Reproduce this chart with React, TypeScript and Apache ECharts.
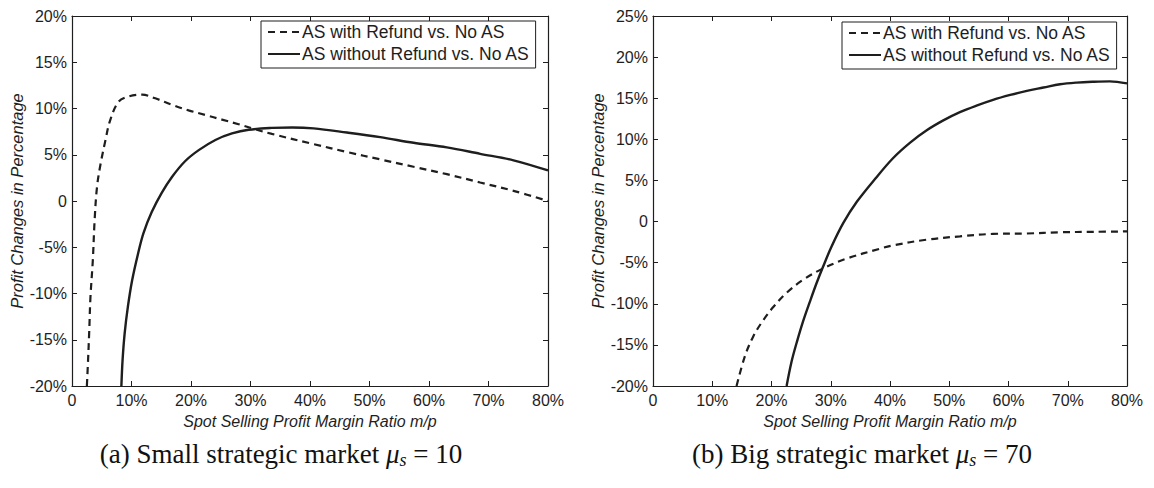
import React, { useEffect, useRef } from "react";
import * as echarts from "echarts";

// ---- data (x: m/p in %, y: profit change in %) ----
const SERIES_REFUND = "AS with Refund vs. No AS";
const SERIES_NOREFUND = "AS without Refund vs. No AS";

const xTicksLabel = ["0", "10%", "20%", "30%", "40%", "50%", "60%", "70%", "80%"];

// (a) small strategic market
const smallRefundX = [2.5, 2.7, 2.9, 3.1, 3.5, 3.8, 4.2, 4.8, 5.6, 6.4, 7.8, 9.5, 11.8, 14.0, 16.8, 19.6, 22.4, 25.2, 28.0, 30.8, 33.6, 40.6, 46.2, 51.8, 57.4, 63.0, 68.6, 74.2, 80.0];
const smallRefundY = [-20, -17.2, -14.0, -10.4, -6.4, -2.1, 1.5, 4.0, 6.5, 8.7, 10.7, 11.3, 11.5, 11.1, 10.4, 9.8, 9.3, 8.8, 8.3, 7.75, 7.25, 6.15, 5.3, 4.5, 3.7, 2.9, 2.0, 1.1, 0.0];
const smallNoRefundX = [8.3, 8.5, 8.85, 9.4, 10.1, 11.1, 12.0, 13.4, 15.1, 16.8, 19.0, 21.3, 24.1, 26.9, 29.7, 33.6, 37.0, 40.6, 46.2, 51.8, 57.4, 63.0, 68.6, 74.2, 80.0];
const smallNoRefundY = [-20, -17.2, -14.3, -11.4, -8.6, -5.7, -3.5, -1.2, 0.9, 2.6, 4.3, 5.5, 6.6, 7.3, 7.7, 7.9, 7.95, 7.85, 7.4, 6.9, 6.3, 5.8, 5.1, 4.4, 3.3];

// (b) big strategic market
const bigRefundX = [14.1, 15.5, 16.9, 18.6, 20.3, 22.5, 25.3, 28.7, 32.7, 38.3, 40.5, 46.2, 51.8, 57.4, 63.1, 68.7, 74.3, 80.0];
const bigRefundY = [-20, -16.4, -14.0, -12.0, -10.4, -8.7, -7.1, -5.7, -4.5, -3.3, -2.9, -2.2, -1.8, -1.5, -1.45, -1.3, -1.25, -1.2];
const bigNoRefundX = [22.55, 23.4, 24.3, 25.3, 26.5, 27.6, 28.7, 30.1, 32.1, 34.4, 37.5, 40.5, 43.4, 46.2, 49.0, 51.8, 54.6, 57.4, 60.3, 63.1, 65.9, 68.7, 71.5, 74.3, 77.1, 80.0];
const bigNoRefundY = [-20, -17.0, -14.6, -12.2, -9.7, -7.5, -5.5, -3.1, -0.2, 2.4, 5.2, 7.7, 9.6, 11.1, 12.3, 13.3, 14.1, 14.8, 15.4, 15.9, 16.3, 16.7, 16.9, 17.0, 17.05, 16.8];

const captionA = "(a) Small strategic market ";
const captionB = "(b) Big strategic market ";
const muA = "10";
const muB = "70";

const zip = (xs: number[], ys: number[]) => xs.map((x, i) => [x, ys[i]]);

const SANS = "'Liberation Sans', Arial, Helvetica, sans-serif";
const SERIF = "'Liberation Serif', 'DejaVu Serif', serif";
const INK = "#1e1e1e";

export default function App() {
  const ref = useRef<HTMLDivElement>(null);

  useEffect(() => {
    document.body.style.margin = "0";
    const chart = echarts.init(ref.current!, null, { renderer: "svg" });

    const grids = [
      { left: 72, top: 16, width: 476, height: 370 },
      { left: 653, top: 16, width: 474, height: 370 },
    ];
    const yRanges = [
      { min: -20, max: 20 },
      { min: -20, max: 25 },
    ];

    const axisLine = { show: true, onZero: false, lineStyle: { color: INK, width: 1.2 } };
    const axisTick = { show: true, inside: true, length: 5, lineStyle: { color: INK, width: 1 } };

    const xAxis: any[] = [];
    const yAxis: any[] = [];
    [0, 1].forEach((g) => {
      xAxis.push({
        type: "value",
        gridIndex: g,
        min: 0,
        max: 80,
        interval: 10,
        position: "bottom",
        axisLine,
        axisTick,
        splitLine: { show: false },
        axisLabel: {
          color: INK,
          fontFamily: SANS,
          fontSize: 16,
          margin: 6,
          formatter: (v: number) => xTicksLabel[Math.round(v / 10)],
        },
        name: "Spot Selling Profit Margin Ratio m/p",
        nameLocation: "middle",
        nameGap: 27,
        nameTextStyle: { color: INK, fontFamily: SANS, fontSize: 16, fontStyle: "italic" },
      });
      xAxis.push({
        type: "value",
        gridIndex: g,
        min: 0,
        max: 80,
        interval: 10,
        position: "top",
        axisLine,
        axisTick,
        splitLine: { show: false },
        axisLabel: { show: false },
      });
      yAxis.push({
        type: "value",
        gridIndex: g,
        min: yRanges[g].min,
        max: yRanges[g].max,
        interval: 5,
        position: "left",
        axisLine,
        axisTick,
        splitLine: { show: false },
        axisLabel: {
          color: INK,
          fontFamily: SANS,
          fontSize: 16,
          margin: 5,
          formatter: (v: number) => (v === 0 ? "0" : v + "%"),
        },
        name: "Profit Changes in Percentage",
        nameLocation: "middle",
        nameGap: 46,
        nameTextStyle: { color: INK, fontFamily: SANS, fontSize: 16.5, fontStyle: "italic" },
      });
      yAxis.push({
        type: "value",
        gridIndex: g,
        min: yRanges[g].min,
        max: yRanges[g].max,
        interval: 5,
        position: "right",
        axisLine,
        axisTick,
        splitLine: { show: false },
        axisLabel: { show: false },
      });
    });

    const dashed = { color: INK, width: 2.2, type: [7, 5] as any };
    const solid = { color: INK, width: 2.4, type: "solid" as any };
    const common = {
      type: "line",
      showSymbol: false,
      symbol: "none",
      smooth: 0.35,
      clip: true,
    };

    const series: any[] = [
      { ...common, name: SERIES_REFUND, xAxisIndex: 0, yAxisIndex: 0, data: zip(smallRefundX, smallRefundY), lineStyle: dashed, itemStyle: { color: INK } },
      { ...common, name: SERIES_NOREFUND, xAxisIndex: 0, yAxisIndex: 0, data: zip(smallNoRefundX, smallNoRefundY), lineStyle: solid, itemStyle: { color: INK } },
      { ...common, name: SERIES_REFUND, xAxisIndex: 2, yAxisIndex: 2, data: zip(bigRefundX, bigRefundY), lineStyle: dashed, itemStyle: { color: INK } },
      { ...common, name: SERIES_NOREFUND, xAxisIndex: 2, yAxisIndex: 2, data: zip(bigNoRefundX, bigNoRefundY), lineStyle: solid, itemStyle: { color: INK } },
    ];

    const legendBase = {
      orient: "vertical",
      data: [SERIES_REFUND, SERIES_NOREFUND],
      itemWidth: 32,
      itemHeight: 14,
      itemGap: 0,
      padding: [0, 6, 3, 6],
      backgroundColor: "#fff",
      borderColor: INK,
      borderWidth: 1,
      borderRadius: 0,
      selectedMode: false,
      itemStyle: { color: "transparent", borderWidth: 0, opacity: 0 },
      textStyle: { color: INK, fontFamily: SANS, fontSize: 17.5, lineHeight: 22, padding: [0, 0, 0, -3] },
    };

    const caption = (x: number, lead: string, val: string) => ({
      type: "text",
      x,
      y: 454,
      style: {
        text: lead + "{mu|μ}{sub|s}{eq| = " + val + "}",
        fontFamily: SERIF,
        fontSize: 27,
        fill: "#111",
        align: "center",
        verticalAlign: "middle",
        rich: {
          mu: { fontFamily: SERIF, fontSize: 27, fontStyle: "italic", fill: "#111" },
          sub: { fontFamily: SERIF, fontSize: 18, fontStyle: "italic", fill: "#111", padding: [11, 0, 0, 0] },
          eq: { fontFamily: SERIF, fontSize: 27, fill: "#111" },
        },
      },
    });

    chart.setOption({
      animation: false,
      backgroundColor: "#fff",
      grid: grids.map((g) => ({ ...g, containLabel: false })),
      xAxis,
      yAxis,
      legend: [
        { ...legendBase, left: 261, top: 21 },
        { ...legendBase, left: 842, top: 22 },
      ],
      series,
      graphic: [caption(281, captionA, muA), caption(862, captionB, muB)],
    });

    return () => chart.dispose();
  }, []);

  return <div ref={ref} style={{ width: 1154, height: 488 }} />;
}
